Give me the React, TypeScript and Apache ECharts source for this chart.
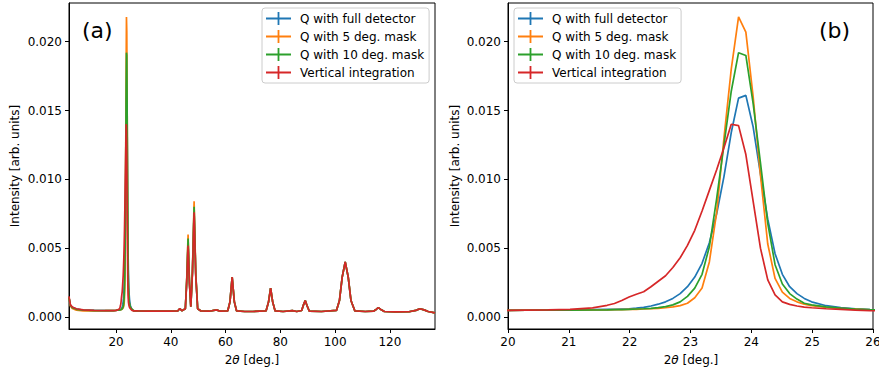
import React, { useEffect, useRef } from "react";
import * as echarts from "echarts";

// ---------- data ----------
const SERIES_NAMES = [
  "Q with full detector",
  "Q with 5 deg. mask",
  "Q with 10 deg. mask",
  "Vertical integration",
];
const COLORS = ["#1f77b4", "#ff7f0e", "#2ca02c", "#d62728"];

// zoomed window around the main reflection (panel b), 2θ in degrees
const zoomTheta = [
  19.94, 20.3, 20.66, 21.02, 21.39, 21.63, 21.75, 21.87, 21.99, 22.11, 22.23, 22.35, 22.47,
  22.59, 22.71, 22.83, 22.95, 23.07, 23.19, 23.31, 23.43, 23.55, 23.67, 23.79, 23.91, 24.03,
  24.15, 24.27, 24.39, 24.51, 24.63, 24.75, 24.87, 24.99, 25.23, 25.47, 25.71, 25.95, 26.07,
];
const zoomFull = [
  0.00048, 0.00049, 0.0005, 0.00051, 0.00053, 0.00055, 0.00056, 0.00058, 0.0006, 0.00064, 0.0007,
  0.0008, 0.00093, 0.0011, 0.00135, 0.0017, 0.0022, 0.0029, 0.0039, 0.0054, 0.0075, 0.0102,
  0.0134, 0.0159, 0.0161, 0.0138, 0.0104, 0.0071, 0.0046, 0.0031, 0.0022, 0.0017, 0.00135,
  0.0011, 0.00082, 0.00068, 0.0006, 0.00054, 0.00052,
];
const zoomMask5 = [
  0.00048, 0.00049, 0.0005, 0.0005, 0.00051, 0.00052, 0.00053, 0.00054, 0.00055, 0.00056,
  0.00058, 0.0006, 0.00063, 0.00067, 0.00073, 0.00083, 0.001, 0.0014, 0.0021, 0.004, 0.0076,
  0.013, 0.018, 0.0218, 0.0207, 0.016, 0.0103, 0.0053, 0.0028, 0.0018, 0.00135, 0.0011,
  0.00093, 0.00082, 0.0007, 0.00062, 0.00057, 0.00052, 0.0005,
];
const zoomMask10 = [
  0.00048, 0.00049, 0.0005, 0.0005, 0.00051, 0.00052, 0.00053, 0.00054, 0.00056, 0.00058,
  0.0006, 0.00063, 0.00068, 0.00075, 0.00088, 0.0011, 0.0015, 0.0021, 0.0031, 0.0051, 0.0086,
  0.0125, 0.0164, 0.0192, 0.019, 0.0155, 0.0112, 0.0068, 0.0038, 0.0024, 0.0017, 0.0013, 0.001,
  0.00088, 0.00074, 0.00065, 0.00058, 0.00053, 0.00051,
];
const zoomVertical = [
  0.00048, 0.0005, 0.00052, 0.00056, 0.00066, 0.00085, 0.00098, 0.0012, 0.00145, 0.00165,
  0.00183, 0.0022, 0.0026, 0.003, 0.0036, 0.0043, 0.0052, 0.0063, 0.0077, 0.0092, 0.0107,
  0.0123, 0.014, 0.0139, 0.0118, 0.0084, 0.005, 0.0027, 0.0016, 0.0011, 0.00092, 0.0008,
  0.00072, 0.00067, 0.0006, 0.00055, 0.0005, 0.00046, 0.00045,
];

// low-angle part of the full pattern (below the zoom window)
const lowTheta = [2.8, 3.3, 4.0, 5.5, 8, 12, 16, 19];
const lowFull = [0.0014, 0.00085, 0.0007, 0.00058, 0.00051, 0.00048, 0.00047, 0.00047];
const lowMask5 = [0.0014, 0.0008, 0.00062, 0.0005, 0.00044, 0.00045, 0.00046, 0.00047];
const lowMask10 = [0.0014, 0.00085, 0.00068, 0.00056, 0.0005, 0.00047, 0.00047, 0.00047];
const lowVertical = [0.0015, 0.0009, 0.00072, 0.0006, 0.00052, 0.00048, 0.00047, 0.00047];

// high-angle part of the full pattern (above the zoom window)
const highTheta = [
  26.5, 28, 32, 36, 40, 42.6, 43.3, 44.0, 45.3, 45.8, 46.3, 46.8, 47.3, 47.9, 48.5, 49.1, 49.8,
  51, 54, 56.7, 58, 60.8, 61.6, 62.4, 63.2, 64.0, 67, 70, 74.8, 75.7, 76.45, 77.2, 78.1, 81,
  84.4, 86, 87.8, 88.5, 89.1, 89.8, 90.6, 95, 100.5, 101.6, 102.6, 103.7, 104.8, 105.8, 107.2,
  111, 114, 115, 115.8, 116.7, 118, 122, 127, 129.5, 131, 132.5, 134, 136.5,
];
const highFull = [
  0.00045, 0.00044, 0.00043, 0.00042, 0.00043, 0.00045, 0.00062, 0.00045, 0.0006, 0.0026,
  0.0054, 0.0025, 0.00075, 0.0033, 0.0078, 0.0031, 0.0006, 0.00044, 0.00042, 0.00052, 0.00042,
  0.00045, 0.0011, 0.0029, 0.0011, 0.00045, 0.0004, 0.0004, 0.00045, 0.0011, 0.0021, 0.0011,
  0.00044, 0.0004, 0.00046, 0.0004, 0.00047, 0.0009, 0.0012, 0.0008, 0.00042, 0.0004, 0.00048,
  0.0012, 0.0029, 0.004, 0.0029, 0.0012, 0.00045, 0.0004, 0.00042, 0.00055, 0.00068, 0.00055,
  0.0004, 0.00037, 0.00038, 0.00048, 0.0006, 0.00052, 0.0004, 0.0003,
];
const highMask5 = [
  0.00045, 0.00044, 0.00043, 0.00042, 0.00043, 0.00045, 0.00062, 0.00045, 0.0006, 0.0027,
  0.006, 0.0026, 0.00075, 0.0034, 0.0084, 0.0032, 0.0006, 0.00044, 0.00042, 0.00052, 0.00042,
  0.00045, 0.0011, 0.0029, 0.0011, 0.00045, 0.0004, 0.0004, 0.00045, 0.0011, 0.0021, 0.0011,
  0.00044, 0.0004, 0.00046, 0.0004, 0.00047, 0.0009, 0.0012, 0.0008, 0.00042, 0.0004, 0.00048,
  0.0012, 0.0029, 0.004, 0.0029, 0.0012, 0.00045, 0.0004, 0.00042, 0.00055, 0.00068, 0.00055,
  0.0004, 0.00037, 0.00038, 0.00048, 0.0006, 0.00052, 0.0004, 0.0003,
];
const highMask10 = [
  0.00045, 0.00044, 0.00043, 0.00042, 0.00043, 0.00045, 0.00062, 0.00045, 0.0006, 0.0026,
  0.0057, 0.0025, 0.00075, 0.0033, 0.008, 0.0031, 0.0006, 0.00044, 0.00042, 0.00052, 0.00042,
  0.00045, 0.0011, 0.0029, 0.0011, 0.00045, 0.0004, 0.0004, 0.00045, 0.0011, 0.0021, 0.0011,
  0.00044, 0.0004, 0.00046, 0.0004, 0.00047, 0.0009, 0.0012, 0.0008, 0.00042, 0.0004, 0.00048,
  0.0012, 0.0029, 0.004, 0.0029, 0.0012, 0.00045, 0.0004, 0.00042, 0.00055, 0.00068, 0.00055,
  0.0004, 0.00037, 0.00038, 0.00048, 0.0006, 0.00052, 0.0004, 0.0003,
];
const highVertical = [
  0.00045, 0.00044, 0.00043, 0.00042, 0.00043, 0.00045, 0.00062, 0.00045, 0.0006, 0.0025,
  0.0052, 0.0024, 0.00075, 0.0032, 0.0076, 0.003, 0.0006, 0.00044, 0.00042, 0.00052, 0.00042,
  0.00045, 0.0011, 0.0029, 0.0011, 0.00045, 0.0004, 0.0004, 0.00045, 0.0011, 0.0021, 0.0011,
  0.00044, 0.0004, 0.00046, 0.0004, 0.00047, 0.0009, 0.0012, 0.0008, 0.00042, 0.0004, 0.00048,
  0.0012, 0.0029, 0.004, 0.0029, 0.0012, 0.00045, 0.0004, 0.00042, 0.00055, 0.00068, 0.00055,
  0.0004, 0.00037, 0.00038, 0.00048, 0.0006, 0.00052, 0.0004, 0.0003,
];

const yTicks = [0, 0.005, 0.01, 0.015, 0.02];
const xTicksFull = [20, 40, 60, 80, 100, 120];
const xTicksZoom = [20, 21, 22, 23, 24, 25, 26];

// ---------- helpers ----------
const pairs = (xs: number[], ys: number[]) => xs.map((x, i) => [x, ys[i]]);

const FONT = "DejaVu Sans";
const FS = 12;
const PLUS = "path://M0,5.6H25V7.4H0Z M11.6,0H13.4V13H11.6Z";

export default function App() {
  const ref = useRef<HTMLDivElement>(null);

  useEffect(() => {
    if (!ref.current) return;
    const chart = echarts.init(ref.current, null, { renderer: "svg" });

    const fullSets = [
      [lowFull, zoomFull, highFull],
      [lowMask5, zoomMask5, highMask5],
      [lowMask10, zoomMask10, highMask10],
      [lowVertical, zoomVertical, highVertical],
    ];
    const zoomSets = [zoomFull, zoomMask5, zoomMask10, zoomVertical];
    const fullTheta = [...lowTheta, ...zoomTheta, ...highTheta];

    const yMin = -0.000872;
    const yMax = 0.02281;

    const mkX = (gridIndex: number, min: number, max: number, ticks: number[]) => ({
      type: "value",
      gridIndex,
      min,
      max,
      splitLine: { show: false },
      axisLine: { show: true, onZero: false, lineStyle: { color: "#000", width: 1 } },
      axisTick: { show: true, length: 4, lineStyle: { color: "#000", width: 1 }, customValues: ticks },
      axisLabel: {
        customValues: ticks,
        color: "#000",
        fontSize: FS,
        fontFamily: FONT,
        margin: 7,
        hideOverlap: false,
        formatter: (v: number) => String(v),
      },
    });
    const mkY = (gridIndex: number) => ({
      type: "value",
      gridIndex,
      min: yMin,
      max: yMax,
      splitLine: { show: false },
      axisLine: { show: true, onZero: false, lineStyle: { color: "#000", width: 1 } },
      axisTick: { show: true, length: 4, lineStyle: { color: "#000", width: 1 }, customValues: yTicks },
      axisLabel: {
        customValues: yTicks,
        color: "#000",
        fontSize: FS,
        fontFamily: FONT,
        margin: 7,
        formatter: (v: number) => v.toFixed(3),
      },
    });

    const mkLegend = (left: number) => ({
      left,
      top: 8,
      orient: "vertical",
      data: SERIES_NAMES,
      icon: PLUS,
      itemWidth: 25,
      itemHeight: 13,
      itemGap: 5,
      padding: [4, 5, 4, 4],
      backgroundColor: "rgba(255,255,255,0.8)",
      borderColor: "#cccccc",
      borderWidth: 1,
      borderRadius: 3,
      selectedMode: false,
      textStyle: { fontSize: FS, fontFamily: FONT, color: "#000", padding: [0, 0, 0, 4] },
    });

    const series: any[] = [];
    SERIES_NAMES.forEach((name, i) => {
      const ys = ([] as number[]).concat(...fullSets[i]);
      series.push({
        type: "line",
        name,
        xAxisIndex: 0,
        yAxisIndex: 0,
        data: pairs(fullTheta, ys),
        showSymbol: false,
        symbol: "none",
        clip: true,
        silent: true,
        lineStyle: { color: COLORS[i], width: 1.7 },
        itemStyle: { color: COLORS[i] },
        emphasis: { disabled: true },
      });
    });
    SERIES_NAMES.forEach((name, i) => {
      series.push({
        type: "line",
        name,
        xAxisIndex: 1,
        yAxisIndex: 1,
        data: pairs(zoomTheta, zoomSets[i]),
        showSymbol: false,
        symbol: "none",
        clip: true,
        silent: true,
        lineStyle: { color: COLORS[i], width: 1.7 },
        itemStyle: { color: COLORS[i] },
        emphasis: { disabled: true },
      });
    });

    const ytitle = (x: number) => ({
      type: "text",
      x,
      y: 166,
      rotation: Math.PI / 2,
      style: {
        text: "Intensity [arb. units]",
        fontSize: FS,
        fontFamily: FONT,
        fill: "#000",
        textAlign: "center",
        textVerticalAlign: "middle",
      },
    });
    const xtitle = (x: number) => ({
      type: "text",
      x,
      y: 360,
      style: {
        text: "2{i|θ} [deg.]",
        rich: { i: { fontStyle: "italic", fontSize: FS, fontFamily: FONT, fill: "#000" } },
        fontSize: FS,
        fontFamily: FONT,
        fill: "#000",
        textAlign: "center",
        textVerticalAlign: "middle",
      },
    });
    const panelLabel = (x: number, text: string) => ({
      type: "text",
      x,
      y: 30,
      style: {
        text,
        fontSize: 22,
        fontFamily: FONT,
        fill: "#000",
        textAlign: "left",
        textVerticalAlign: "middle",
      },
    });

    chart.setOption({
      animation: false,
      backgroundColor: "#fff",
      grid: [
        { left: 69, top: 3, width: 366, height: 326, outerBoundsMode: "none", containLabel: false, show: true, borderColor: "#000", borderWidth: 1, backgroundColor: "transparent" },
        { left: 508, top: 3, width: 365, height: 326, outerBoundsMode: "none", containLabel: false, show: true, borderColor: "#000", borderWidth: 1, backgroundColor: "transparent" },
      ],
      xAxis: [mkX(0, 2.8, 136.5, xTicksFull), mkX(1, 20, 26, xTicksZoom)],
      yAxis: [mkY(0), mkY(1)],
      legend: [mkLegend(262), mkLegend(514)],
      series,
      graphic: [
        ytitle(15),
        ytitle(455),
        xtitle(252),
        xtitle(691),
        panelLabel(82, "(a)"),
        panelLabel(819, "(b)"),
      ],
    });

    return () => chart.dispose();
  }, []);

  return (
    <div
      ref={ref}
      style={{ position: "fixed", left: 0, top: 0, width: 879, height: 371, background: "#fff" }}
    />
  );
}
